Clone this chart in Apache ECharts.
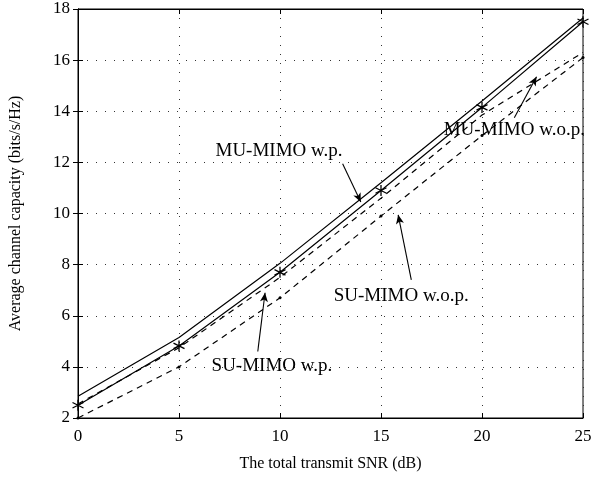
<!DOCTYPE html>
<html>
<head>
<meta charset="utf-8">
<script src="https://cdn.jsdelivr.net/npm/echarts@6/dist/echarts.min.js"></script>
<style>
  html, body { margin: 0; padding: 0; background: #fff; }
  #chart { width: 606px; height: 480px; }
</style>
</head>
<body>
<div id="chart"></div>
<script>
// SNR (dB)
const snr = [0, 5, 10, 15, 20, 25]

// average channel capacity (bits/s/Hz)
const muWp = [2.85, 5.15, 8.05, 11.2, 14.4, 17.65]
const suWp = [2.5, 4.82, 7.7, 10.9, 14.15, 17.5]
const muWop = [2.55, 4.75, 7.5, 10.6, 13.85, 16.3]
const suWop = [2.0, 4.0, 6.7, 9.9, 13.05, 16.1]

const xTicks = [0, 5, 10, 15, 20, 25]
const yTicks = [2, 4, 6, 8, 10, 12, 14, 16, 18]

// annotation labels: text, label position, arrow start, arrow tip (data coords)
const notes = [
  { text: 'MU-MIMO w.p.', at: [9.95, 12.45], from: [13.1, 11.95], to: [14.0, 10.45] },
  { text: 'MU-MIMO w.o.p.', at: [21.6, 13.25], from: [21.6, 13.75], to: [22.7, 15.35] },
  { text: 'SU-MIMO w.o.p.', at: [16.0, 6.77], from: [16.5, 7.4], to: [15.85, 9.95] },
  { text: 'SU-MIMO w.p.', at: [9.6, 4.03], from: [8.9, 4.6], to: [9.26, 6.9] }
]

const font = 'Liberation Serif'
const asterisk = 'path://M0,-5L0,5M-4.33,-2.5L4.33,2.5M-4.33,2.5L4.33,-2.5'

const pairs = ys => snr.map((x, i) => [x, ys[i]])

const chart = echarts.init(document.getElementById('chart'))

const lineStyle = { color: '#000', width: 1.2 }
const dashStyle = { color: '#000', width: 1.2, type: [6, 5] }

const option = {
  backgroundColor: '#fff',
  animation: false,
  textStyle: { fontFamily: font, color: '#000' },
  grid: {
    left: 78,
    right: 23,
    top: 9,
    bottom: 62,
    show: true,
    borderColor: '#000',
    borderWidth: 1
  },
  xAxis: [
    {
      type: 'value',
      min: 0,
      max: 25,
      interval: 5,
      name: 'The total transmit SNR (dB)',
      nameLocation: 'middle',
      nameGap: 38,
      nameTextStyle: { fontFamily: font, fontSize: 16, color: '#000' },
      axisLine: { lineStyle: { color: '#000' } },
      axisTick: { inside: true, length: 5, lineStyle: { color: '#000' } },
      axisLabel: {
        fontFamily: font,
        fontSize: 17,
        color: '#000',
        margin: 10,
        formatter: v => (xTicks.includes(v) ? String(v) : '')
      },
      splitLine: { show: true, lineStyle: { color: '#333', width: 1, type: [1, 8] } }
    },
    {
      type: 'value',
      min: 0,
      max: 25,
      interval: 5,
      position: 'top',
      axisLine: { lineStyle: { color: '#000' } },
      axisTick: { inside: true, length: 5, lineStyle: { color: '#000' } },
      axisLabel: { show: false },
      splitLine: { show: false }
    }
  ],
  yAxis: [
    {
      type: 'value',
      min: 2,
      max: 18,
      interval: 2,
      name: 'Average channel capacity (bits/s/Hz)',
      nameLocation: 'middle',
      nameGap: 54,
      nameTextStyle: { fontFamily: font, fontSize: 16, color: '#000' },
      axisLine: { lineStyle: { color: '#000' } },
      axisTick: { inside: true, length: 5, lineStyle: { color: '#000' } },
      axisLabel: {
        fontFamily: font,
        fontSize: 17,
        color: '#000',
        margin: 8,
        formatter: v => (yTicks.includes(v) ? String(v) : '')
      },
      splitLine: { show: true, lineStyle: { color: '#333', width: 1, type: [1, 8] } }
    },
    {
      type: 'value',
      min: 2,
      max: 18,
      interval: 2,
      position: 'right',
      axisLine: { lineStyle: { color: '#000' } },
      axisTick: { inside: true, length: 5, lineStyle: { color: '#000' } },
      axisLabel: { show: false },
      splitLine: { show: false }
    }
  ],
  series: [
    {
      name: 'MU-MIMO w.p.',
      type: 'line',
      data: pairs(muWp),
      symbol: 'none',
      lineStyle: lineStyle,
      z: 4
    },
    {
      name: 'SU-MIMO w.p.',
      type: 'line',
      data: pairs(suWp),
      symbol: asterisk,
      symbolSize: 11,
      itemStyle: { color: 'transparent', borderColor: '#000', borderWidth: 1.3 },
      lineStyle: lineStyle,
      z: 4
    },
    {
      name: 'MU-MIMO w.o.p.',
      type: 'line',
      data: pairs(muWop),
      symbol: 'none',
      lineStyle: dashStyle,
      z: 3
    },
    {
      name: 'SU-MIMO w.o.p.',
      type: 'line',
      data: pairs(suWop),
      symbol: 'circle',
      symbolSize: 3,
      itemStyle: { color: '#000', borderWidth: 0 },
      lineStyle: dashStyle,
      z: 3
    },
    {
      name: 'notes',
      type: 'line',
      data: [],
      silent: true,
      markLine: {
        silent: true,
        symbol: ['none', 'arrow'],
        symbolSize: [6, 9],
        lineStyle: { color: '#000', width: 1.1, type: 'solid' },
        label: { show: false },
        data: notes.map(n => [{ coord: n.from }, { coord: n.to }])
      },
      markPoint: {
        silent: true,
        symbol: 'circle',
        symbolSize: 0,
        label: {
          show: true,
          position: 'inside',
          fontFamily: font,
          fontSize: 19,
          color: '#000',
          formatter: p => p.name
        },
        data: notes.map(n => ({ name: n.text, coord: n.at }))
      },
      z: 6
    }
  ]
}

chart.setOption(option)
</script>
</body>
</html>
